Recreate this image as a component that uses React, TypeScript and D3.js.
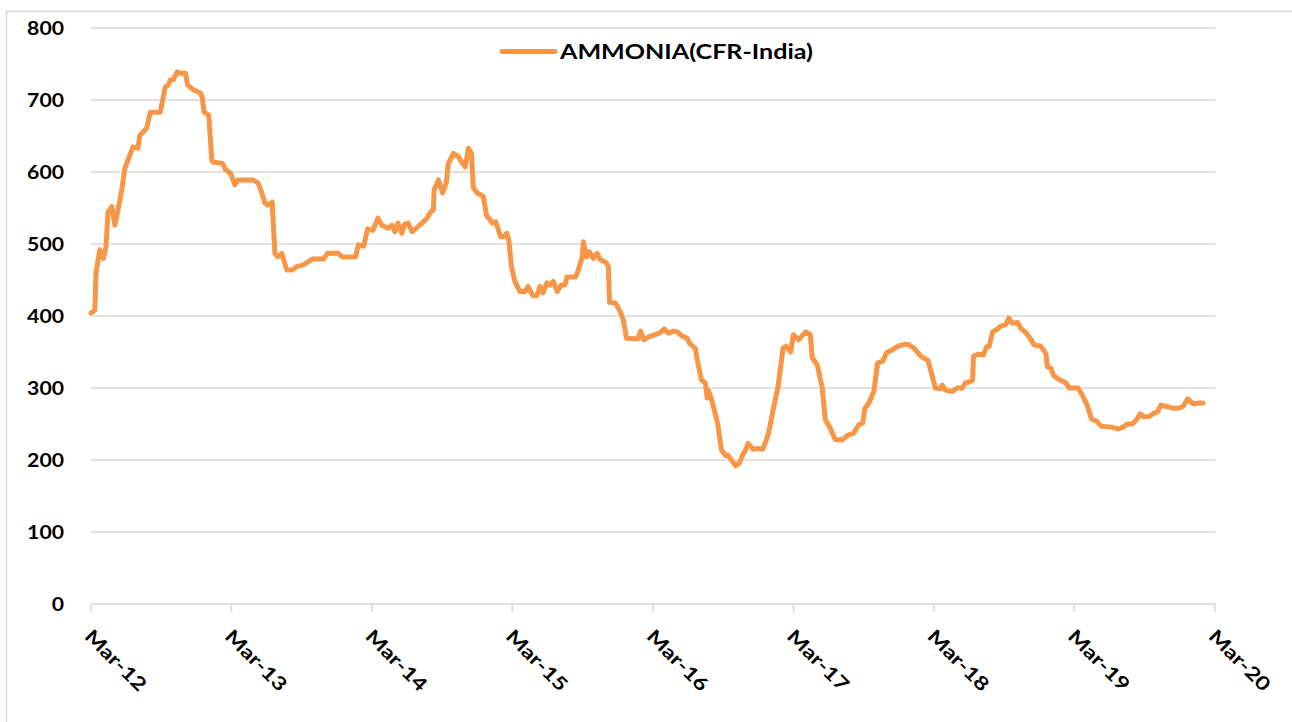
import React from "react";
import * as d3 from "d3";

const seriesName = "AMMONIA(CFR-India)";

const dates: string[] = [
  "2012-03-01","2012-03-11","2012-03-14","2012-03-24","2012-04-02","2012-04-09","2012-04-14","2012-04-24",
  "2012-05-02","2012-05-10","2012-05-20","2012-05-28","2012-06-18","2012-07-01","2012-07-06","2012-07-24",
  "2012-08-02","2012-08-28","2012-09-10","2012-09-18","2012-09-23","2012-10-01","2012-10-11","2012-10-19",
  "2012-11-02","2012-11-07","2012-11-22","2012-12-10","2012-12-15","2012-12-20","2013-01-01","2013-01-09",
  "2013-01-11","2013-02-06","2013-02-14","2013-02-27","2013-03-10","2013-03-18","2013-04-26","2013-05-09",
  "2013-05-19","2013-05-27","2013-06-04","2013-06-15","2013-06-22","2013-06-30","2013-07-10","2013-07-23",
  "2013-08-06","2013-08-19","2013-09-04","2013-09-27","2013-10-26","2013-11-06","2013-12-04","2013-12-14",
  "2014-01-18","2014-01-25","2014-02-08","2014-02-18","2014-03-04","2014-03-17","2014-03-27","2014-04-12",
  "2014-04-22","2014-04-30","2014-05-08","2014-05-18","2014-05-26","2014-06-03","2014-06-14","2014-06-29",
  "2014-07-23","2014-07-31","2014-08-08","2014-08-10","2014-08-21","2014-09-01","2014-09-11","2014-09-16",
  "2014-09-29","2014-10-12","2014-10-30","2014-11-07","2014-11-15","2014-11-20","2014-11-30","2014-12-16",
  "2014-12-24","2015-01-09","2015-01-17","2015-01-30","2015-02-07","2015-02-15","2015-02-20","2015-02-27",
  "2015-03-08","2015-03-21","2015-04-03","2015-04-11","2015-04-24","2015-05-04","2015-05-12","2015-05-20",
  "2015-05-30","2015-06-08","2015-06-16","2015-06-26","2015-07-06","2015-07-16","2015-07-21","2015-08-12",
  "2015-08-20","2015-08-30","2015-09-02","2015-09-10","2015-09-18","2015-09-28","2015-10-08","2015-10-16",
  "2015-10-29","2015-11-06","2015-11-09","2015-11-24","2015-12-07","2015-12-15","2015-12-23","2016-01-21",
  "2016-01-29","2016-02-06","2016-02-19","2016-03-07","2016-03-20","2016-03-30","2016-04-10","2016-04-23",
  "2016-05-03","2016-05-16","2016-05-29","2016-06-04","2016-06-19","2016-06-24","2016-07-05","2016-07-15",
  "2016-07-20","2016-07-23","2016-08-03","2016-08-16","2016-08-26","2016-09-06","2016-09-11","2016-10-02",
  "2016-10-12","2016-10-20","2016-10-28","2016-11-03","2016-11-16","2016-11-28","2016-12-11","2016-12-19",
  "2016-12-27","2017-01-09","2017-01-20","2017-02-02","2017-02-10","2017-02-22","2017-03-01","2017-03-14",
  "2017-04-02","2017-04-14","2017-04-19","2017-05-02","2017-05-15","2017-05-23","2017-06-03","2017-06-18",
  "2017-07-06","2017-07-22","2017-08-04","2017-08-18","2017-08-28","2017-09-03","2017-09-13","2017-09-26",
  "2017-10-06","2017-10-19","2017-10-29","2017-11-14","2017-11-27","2017-12-18","2017-12-26","2018-01-09",
  "2018-01-27","2018-02-14","2018-02-22","2018-03-05","2018-03-18","2018-03-23","2018-03-31","2018-04-18",
  "2018-05-01","2018-05-14","2018-05-22","2018-05-30","2018-06-10","2018-06-12","2018-06-25","2018-07-08",
  "2018-07-16","2018-07-23","2018-08-01","2018-08-14","2018-08-22","2018-09-04","2018-09-12","2018-09-20",
  "2018-10-05","2018-10-13","2018-10-26","2018-11-08","2018-11-16","2018-12-04","2018-12-17","2018-12-22",
  "2018-12-30","2019-01-07","2019-01-20","2019-02-08","2019-02-16","2019-03-11","2019-03-22","2019-04-04",
  "2019-04-15","2019-04-28","2019-05-10","2019-05-28","2019-06-11","2019-06-24","2019-07-07","2019-07-17",
  "2019-07-30","2019-08-10","2019-08-20","2019-08-28","2019-09-11","2019-09-24","2019-10-04","2019-10-12",
  "2019-10-30","2019-11-12","2019-11-28","2019-12-10","2019-12-21","2020-01-04","2020-01-17","2020-01-30",
];

const values: number[] = [
  404,408,460,492,480,496,544,552,
  526,547,575,605,635,633,651,661,
  683,683,718,721,728,728,739,737,
  737,721,714,710,704,683,679,617,
  614,612,603,598,582,589,589,585,
  571,557,554,558,487,482,487,464,
  464,469,471,479,479,487,487,482,
  482,499,497,521,519,536,526,522,
  526,517,529,515,528,529,517,524,
  536,544,547,575,589,571,586,612,
  626,621,607,633,626,578,571,566,
  540,529,531,510,510,515,506,469,
  448,434,434,441,428,428,441,432,
  446,443,448,434,443,443,454,454,
  464,482,503,482,489,480,487,478,
  475,469,419,418,406,394,369,368,
  379,367,371,374,377,382,376,379,
  378,372,369,362,355,339,311,307,
  286,297,279,251,214,206,207,192,
  196,207,214,223,215,216,215,225,
  239,274,302,355,358,350,374,367,
  378,374,342,332,300,256,246,228,
  228,235,237,249,251,272,279,295,
  335,337,349,353,358,361,360,355,
  344,338,322,300,299,304,297,295,
  300,300,307,308,311,344,347,346,
  357,358,378,382,386,388,397,390,
  391,383,377,368,360,358,348,329,
  328,317,312,307,300,300,290,276,
  257,254,247,246,245,243,246,250,
  250,256,264,260,260,265,267,276,
  274,272,272,275,285,278,279,279,
];

const tickDates: string[] = [
  "2012-03-01","2013-03-01","2014-03-01","2015-03-01","2016-03-01",
  "2017-03-01","2018-03-01","2019-03-01","2020-03-01",
];
const tickLabels: string[] = [
  "Mar-12","Mar-13","Mar-14","Mar-15","Mar-16","Mar-17","Mar-18","Mar-19","Mar-20",
];
const yTicks: number[] = [0, 100, 200, 300, 400, 500, 600, 700, 800];

const W = 1292;
const H = 722;
const FONT = "Lato, 'Open Sans', 'DejaVu Sans', sans-serif";
const ORANGE = "#F79646";
const GRID = "#d9d9d9";

export default function App() {
  const parse = d3.timeParse("%Y-%m-%d");
  const x = d3
    .scaleTime()
    .domain([parse(tickDates[0])!, parse(tickDates[tickDates.length - 1])!])
    .range([91, 1215]);
  const y = d3.scaleLinear().domain([0, 800]).range([604, 28]);

  const pts = dates.map((d, i) => ({ d: parse(d)!, v: values[i] }));
  const line = d3
    .line<{ d: Date; v: number }>()
    .x((p) => x(p.d))
    .y((p) => y(p.v));

  return (
    <svg
      width={W}
      height={H}
      style={{ position: "absolute", left: 0, top: 0, display: "block", background: "#fff" }}
    >
      <rect x={0} y={0} width={W} height={H} fill="#fff" />
      {/* chart frame */}
      <path d={`M6.5,${H + 5} L6.5,11.5 L${W + 5},11.5`} fill="none" stroke={GRID} strokeWidth={1.5} />

      {/* gridlines */}
      {yTicks.map((t) =>
        t === 0 ? null : (
          <line key={t} x1={91} x2={1215} y1={y(t)} y2={y(t)} stroke={GRID} strokeWidth={1.6} />
        )
      )}

      {/* x axis */}
      <line x1={91} x2={1215} y1={y(0)} y2={y(0)} stroke={GRID} strokeWidth={1.6} />
      {tickDates.map((td) => {
        const tx = x(parse(td)!);
        return <line key={td} x1={tx} x2={tx} y1={y(0)} y2={y(0) + 8} stroke={GRID} strokeWidth={1.6} />;
      })}

      {/* y labels */}
      {yTicks.map((t) => {
        const s = String(t);
        return (
          <text
            key={t}
            x={64}
            y={y(t)}
            textAnchor="end"
            dominantBaseline="central"
            fontFamily={FONT}
            fontWeight="bold"
            fontSize={18.5}
            fill="#000"
            textLength={12.3 * s.length}
            lengthAdjust="spacingAndGlyphs"
          >
            {s}
          </text>
        );
      })}

      {/* x labels */}
      {tickDates.map((td, i) => {
        const tx = x(parse(td)!);
        return (
          <g key={td} transform={`translate(${tx + 2},628) rotate(45)`}>
            <text
              x={0}
              y={13.5}
              fontFamily={FONT}
              fontWeight="bold"
              fontSize={19}
              fill="#000"
              textLength={78}
              lengthAdjust="spacingAndGlyphs"
            >
              {tickLabels[i]}
            </text>
          </g>
        );
      })}

      {/* series line */}
      <path
        d={line(pts) || ""}
        fill="none"
        stroke={ORANGE}
        strokeWidth={5}
        strokeLinejoin="round"
        strokeLinecap="round"
      />

      {/* legend */}
      <line x1={502} x2={555} y1={51.5} y2={51.5} stroke={ORANGE} strokeWidth={5} strokeLinecap="round" />
      <text
        x={560}
        y={58.5}
        fontFamily={FONT}
        fontWeight="bold"
        fontSize={20.5}
        fill="#000"
        textLength={253}
        lengthAdjust="spacingAndGlyphs"
      >
        {seriesName}
      </text>
    </svg>
  );
}
